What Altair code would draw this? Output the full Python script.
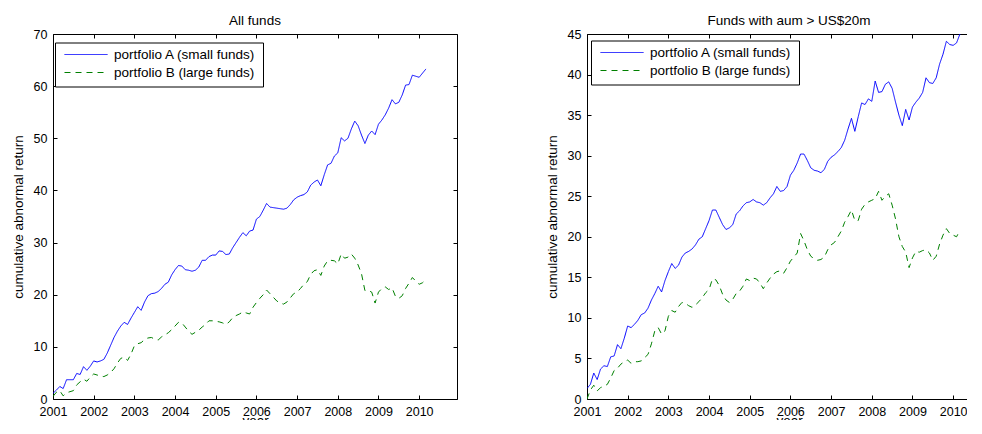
import altair as alt
import pandas as pd

years = list(range(2001, 2011))
series_names = ["portfolio A (small funds)", "portfolio B (large funds)"]
titles = ["All funds", "Funds with aum > US$20m"]
left_yticks = [0, 10, 20, 30, 40, 50, 60, 70]
right_yticks = [0, 5, 10, 15, 20, 25, 30, 35, 40, 45]

# monthly cumulative abnormal returns, Jan 2001 onwards
left_a = [1.1, 1.7, 2.4, 2.0, 3.7, 3.7, 3.7, 4.9, 4.7, 6.2, 5.5, 6.3,
          7.3, 7.1, 7.3, 7.6, 8.8, 10.3, 11.8, 13.0, 14.0, 14.7, 14.3, 15.5,
          16.6, 17.7, 17.0, 18.6, 19.8, 20.2, 20.3, 20.6, 21.2, 22.0, 22.4, 23.8,
          24.8, 25.6, 25.5, 24.8, 24.7, 24.5, 24.7, 25.3, 26.6, 26.6, 27.3, 27.6,
          27.6, 28.4, 28.3, 27.7, 27.8, 29.0, 30.0, 31.0, 31.9, 31.3, 32.2, 32.4,
          34.5, 35.0, 36.2, 37.5, 36.8, 36.7, 36.6, 36.5, 36.4, 36.6, 37.3, 38.2,
          38.7, 39.0, 39.2, 39.7, 41.0, 41.6, 42.0, 40.9, 43.0, 44.9, 45.2, 46.6,
          47.2, 50.1, 49.5, 50.0, 51.8, 53.3, 52.4, 50.6, 49.0, 50.6, 51.4, 50.7,
          52.7, 53.5, 54.5, 55.8, 57.4, 56.6, 56.9, 58.3, 60.2, 60.3, 62.1, 61.9,
          61.7, 62.5, 63.3]
left_b = [0.5, 1.3, 1.6, 0.6, 1.2, 1.4, 1.6, 2.7, 3.3, 3.8, 3.4, 4.2,
          4.8, 4.6, 4.4, 4.3, 4.6, 5.1, 5.8, 6.9, 7.8, 8.0, 7.4, 8.6,
          10.2, 10.6, 10.8, 11.4, 11.7, 11.8, 11.5, 11.3, 11.9, 12.3, 12.7, 13.3,
          14.0, 14.7, 14.6, 13.8, 13.0, 12.4, 12.8, 13.2, 13.8, 14.3, 15.0, 15.0,
          14.9, 14.8, 14.6, 14.3, 14.8, 15.6, 16.0, 16.3, 16.7, 16.5, 16.3, 17.6,
          18.5, 19.3, 20.0, 20.9, 20.2, 19.5, 18.8, 18.4, 18.2, 18.6, 19.4, 20.2,
          20.5, 21.2, 22.0, 22.5, 23.9, 24.6, 24.8, 23.7, 25.5, 26.5, 26.6, 26.5,
          25.9, 27.8, 27.0, 27.2, 27.8, 27.0, 25.7, 24.0, 20.8, 20.8, 20.5, 18.4,
          20.5, 21.2, 21.5, 21.0, 21.3, 19.7, 19.3, 19.8, 21.2, 22.2, 23.3, 22.6,
          22.0, 22.3, 22.9]
right_a = [1.3, 1.8, 3.2, 2.4, 3.7, 4.1, 4.0, 5.2, 5.3, 6.7, 6.2, 7.5,
           9.0, 8.8, 9.2, 9.7, 10.4, 10.6, 11.2, 12.2, 13.0, 13.9, 13.2, 14.6,
           15.7, 16.7, 16.1, 16.5, 17.5, 18.0, 18.2, 18.5, 19.0, 19.7, 20.0, 21.0,
           22.0, 23.3, 23.3, 22.4, 21.5, 20.9, 21.1, 21.5, 22.8, 23.2, 23.8, 24.2,
           24.3, 24.6, 24.3, 24.2, 23.9, 24.2, 24.8, 25.3, 26.2, 25.6, 25.7, 26.2,
           27.6, 28.2, 29.1, 30.2, 30.2, 29.4, 28.5, 28.2, 28.1, 27.9, 28.3, 29.3,
           29.8, 30.1, 30.5, 31.0, 31.9, 33.3, 34.6, 33.0, 34.8, 36.5, 36.3, 37.0,
           36.7, 39.2, 37.8, 37.9, 38.8, 39.1, 38.3, 36.6, 35.0, 33.7, 35.7, 34.4,
           36.0, 36.6, 37.1, 37.8, 39.6, 39.0, 38.9, 39.6, 41.3, 42.5, 44.1, 43.7,
           43.6, 43.9, 45.0]
right_b = [0.0, 1.1, 1.7, 1.0, 1.4, 1.6, 1.8, 2.6, 3.5, 3.8, 4.3, 4.6,
           4.8, 4.4, 4.6, 4.6, 4.7, 5.1, 5.5, 6.8, 8.4, 8.8, 8.0, 8.4,
           10.2, 10.9, 10.7, 11.4, 11.9, 11.8, 11.5, 11.3, 11.6, 12.0, 12.5, 13.1,
           13.5, 14.8, 14.7, 14.0, 12.9, 12.2, 11.9, 12.3, 13.0, 13.3, 13.9, 14.8,
           14.6, 14.9, 14.8, 14.3, 13.6, 14.3, 14.9, 15.4, 15.7, 15.8, 15.5, 16.2,
           17.0, 17.5, 18.0, 20.4, 19.5, 18.4, 17.6, 17.3, 17.1, 17.2, 17.5, 18.4,
           19.0, 19.3, 20.0, 20.7, 21.8, 22.5, 23.3, 22.0, 22.0, 23.4, 24.0, 24.3,
           24.5, 24.7, 25.6, 24.5, 25.0, 25.3, 23.9, 22.2, 20.0, 18.8, 18.1, 16.2,
           17.4, 18.2, 18.1, 18.3, 18.4, 18.0, 17.1, 17.6, 19.1, 20.2, 21.0, 20.4,
           20.2, 20.0, 20.8]


def frame(a, b):
    n = len(a)
    x = [2001 + m / 12 for m in range(n)]
    return pd.DataFrame({
        "year": x + x,
        "value": a + b,
        "series": [series_names[0]] * n + [series_names[1]] * n,
    })


H = 365
W = 404
FONT = "Liberation Sans"


def panel(df, title, ymax, yticks, lx, ly):
    legend = alt.Legend(
        title=None, orient="none", legendX=lx, legendY=ly,
        strokeColor="black", fillColor="white", padding=7, cornerRadius=0,
        symbolType="stroke", symbolSize=1849, symbolStrokeWidth=1,
        symbolOffset=2, clipHeight=10,
        labelFontSize=13.5, labelFont=FONT, labelColor="black",
        labelOffset=6, rowPadding=4, labelLimit=400,
    )
    return alt.Chart(df, title=alt.Title(
        title, fontSize=13.5, fontWeight="normal", font=FONT, color="black",
        offset=1, anchor="middle")).mark_line(strokeWidth=1, clip=True).encode(
        x=alt.X("year:Q",
                scale=alt.Scale(domain=[2001, 2010.93], nice=False, zero=False),
                axis=alt.Axis(values=years, format="d", title="year",
                              ticks=False, domain=False, grid=True,
                              gridColor="black", gridOpacity=1, gridWidth=1,
                              gridDash=[4, H - 8, 4, 3000],
                              labelFontSize=12.5, labelPadding=6.5,
                              labelFlush=False, labelOverlap=False,
                              titleFontSize=13.5, titleFontWeight="normal",
                              titlePadding=-4.2, labelColor="black",
                              titleColor="black")),
        y=alt.Y("value:Q",
                scale=alt.Scale(domain=[0, ymax], nice=False),
                axis=alt.Axis(values=yticks, title="cumulative abnormal return",
                              ticks=False, domain=False, grid=True,
                              gridColor="black", gridOpacity=1, gridWidth=1,
                              gridDash=[4, W - 8, 4, 3000],
                              labelFontSize=12.5, labelPadding=6,
                              labelFlush=False, labelOverlap=False,
                              titleFontSize=13.5, titleFontWeight="normal",
                              titlePadding=8, labelColor="black",
                              titleColor="black")),
        color=alt.Color("series:N",
                        scale=alt.Scale(domain=series_names,
                                        range=["#0000ff", "#008000"]),
                        legend=legend),
        strokeDash=alt.StrokeDash("series:N",
                                  scale=alt.Scale(domain=series_names,
                                                  range=[[1, 0], [6, 5]]),
                                  legend=legend),
    ).properties(width=W, height=H)


left = panel(frame(left_a, left_b), titles[0], 70, left_yticks, 2, 8.5)
right = panel(frame(right_a, right_b), titles[1], 45, right_yticks, 4, 6.5)

chart = alt.hconcat(left, right, spacing=86).resolve_scale(
    color="independent", strokeDash="independent",
    x="independent", y="independent").resolve_legend(
    color="independent", strokeDash="independent").properties(
    padding={"left": 2, "top": 5, "right": -25, "bottom": -8},
    background="white").configure(font=FONT).configure_view(
    stroke="black", strokeWidth=1)

chart.save("out.html", embed_options={"renderer": "svg", "actions": False})
